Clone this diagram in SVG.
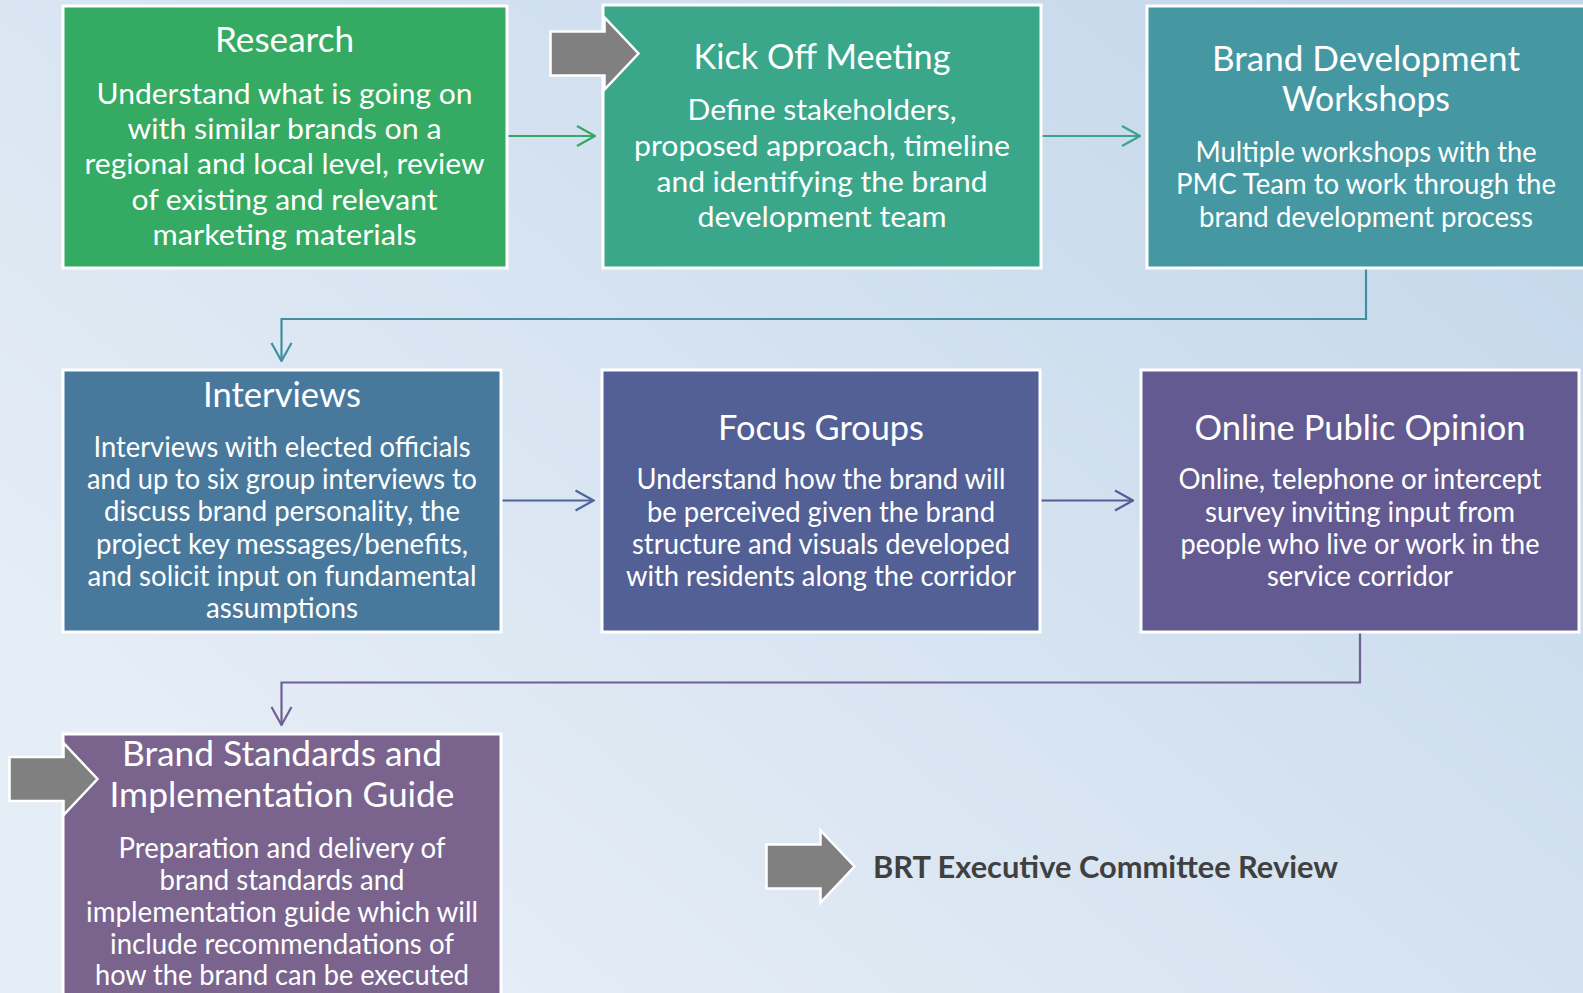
<svg xmlns="http://www.w3.org/2000/svg" width="1583" height="993" viewBox="0 0 1583 993">
  <defs>
    <linearGradient id="bg" gradientUnits="userSpaceOnUse" x1="1400" y1="-100" x2="500" y2="1000">
      <stop offset="0" stop-color="#c2d6ea"/>
      <stop offset="1" stop-color="#e5edf6"/>
    </linearGradient>
    <!-- block arrow, tip at origin -->
    <path id="block-arrow" d="M-88,-22 H-34 V-36 L0,0 L-34,36 V22 H-88 Z"/>
    <marker id="head-green" viewBox="0 0 20 24" refX="19" refY="12" markerWidth="20" markerHeight="24" markerUnits="userSpaceOnUse" orient="auto">
      <path d="M1,2 L19,12 L1,22" fill="none" stroke="#35a865" stroke-width="2.2"/>
    </marker>
    <marker id="head-teal" viewBox="0 0 20 24" refX="19" refY="12" markerWidth="20" markerHeight="24" markerUnits="userSpaceOnUse" orient="auto">
      <path d="M1,2 L19,12 L1,22" fill="none" stroke="#3aa38e" stroke-width="2.2"/>
    </marker>
    <marker id="head-cyan" viewBox="0 0 20 24" refX="19" refY="12" markerWidth="20" markerHeight="24" markerUnits="userSpaceOnUse" orient="auto">
      <path d="M1,2 L19,12 L1,22" fill="none" stroke="#418fa0" stroke-width="2.2"/>
    </marker>
    <marker id="head-blue" viewBox="0 0 20 24" refX="19" refY="12" markerWidth="20" markerHeight="24" markerUnits="userSpaceOnUse" orient="auto">
      <path d="M1,2 L19,12 L1,22" fill="none" stroke="#4d659a" stroke-width="2.2"/>
    </marker>
    <marker id="head-indigo" viewBox="0 0 20 24" refX="19" refY="12" markerWidth="20" markerHeight="24" markerUnits="userSpaceOnUse" orient="auto">
      <path d="M1,2 L19,12 L1,22" fill="none" stroke="#5a5b95" stroke-width="2.2"/>
    </marker>
    <marker id="head-violet" viewBox="0 0 20 24" refX="19" refY="12" markerWidth="20" markerHeight="24" markerUnits="userSpaceOnUse" orient="auto">
      <path d="M1,2 L19,12 L1,22" fill="none" stroke="#6f5f92" stroke-width="2.2"/>
    </marker>
  </defs>
  <style>
    .box { stroke: #ffffff; stroke-width: 3; }
    text { font-family: Lato, "Open Sans", sans-serif; }
    .title { font-size: 34px; fill: #ffffff; text-anchor: middle; }
    .body { font-size: 28px; fill: #ffffff; text-anchor: middle; }
    .body.lg { font-size: 29px; }
    .conn { fill: none; stroke-width: 2.2; }
    .block { fill: #808080; stroke: #ffffff; stroke-width: 2.5; stroke-linejoin: miter; }
    .note { font-weight: bold; font-size: 31px; fill: #404040; }
  </style>

  <rect x="0" y="0" width="1583" height="993" fill="url(#bg)"/>

  <g id="connectors">
    <line class="conn" x1="508" y1="136" x2="595" y2="136" stroke="#35a865" marker-end="url(#head-green)"/>
    <line class="conn" x1="1042" y1="136" x2="1140" y2="136" stroke="#3aa38e" marker-end="url(#head-teal)"/>
    <polyline class="conn" points="1366,268 1366,319 281.5,319 281.5,361" stroke="#418fa0" marker-end="url(#head-cyan)"/>
    <line class="conn" x1="502" y1="500.5" x2="593.5" y2="500.5" stroke="#4d659a" marker-end="url(#head-blue)"/>
    <line class="conn" x1="1041" y1="500.5" x2="1133" y2="500.5" stroke="#5a5b95" marker-end="url(#head-indigo)"/>
    <polyline class="conn" points="1360,633 1360,682.5 281.5,682.5 281.5,725" stroke="#6f5f92" marker-end="url(#head-violet)"/>
  </g>

  <g id="research">
    <rect class="box" x="63" y="6" width="444" height="262" fill="#34aa62"/>
    <text class="title" x="284.5" y="52" textLength="139" lengthAdjust="spacingAndGlyphs">Research</text>
    <text class="body lg" x="284.5" y="103.5" textLength="376" lengthAdjust="spacingAndGlyphs">Understand what is going on</text>
    <text class="body lg" x="284.5" y="138.5" textLength="314" lengthAdjust="spacingAndGlyphs">with similar brands on a</text>
    <text class="body lg" x="284.5" y="174" textLength="400" lengthAdjust="spacingAndGlyphs">regional and local level, review</text>
    <text class="body lg" x="284.5" y="209.5" textLength="306" lengthAdjust="spacingAndGlyphs">of existing and relevant</text>
    <text class="body lg" x="284.5" y="245" textLength="264" lengthAdjust="spacingAndGlyphs">marketing materials</text>
  </g>

  <g id="kick-off-meeting">
    <rect class="box" x="603" y="5" width="438" height="263" fill="#3aa78a"/>
    <text class="title" x="822" y="68.5" textLength="257" lengthAdjust="spacingAndGlyphs">Kick Off Meeting</text>
    <text class="body lg" x="822" y="120" textLength="269" lengthAdjust="spacingAndGlyphs">Define stakeholders,</text>
    <text class="body lg" x="822" y="156" textLength="376" lengthAdjust="spacingAndGlyphs">proposed approach, timeline</text>
    <text class="body lg" x="822" y="191.5" textLength="331" lengthAdjust="spacingAndGlyphs">and identifying the brand</text>
    <text class="body lg" x="822" y="227" textLength="249" lengthAdjust="spacingAndGlyphs">development team</text>
  </g>

  <g id="brand-development-workshops">
    <rect class="box" x="1147" y="6" width="440" height="262" fill="#4598a2"/>
    <text class="title" x="1366" y="71" textLength="308" lengthAdjust="spacingAndGlyphs">Brand Development</text>
    <text class="title" x="1366" y="111" textLength="168" lengthAdjust="spacingAndGlyphs">Workshops</text>
    <text class="body" x="1366" y="162" textLength="341" lengthAdjust="spacingAndGlyphs">Multiple workshops with the</text>
    <text class="body" x="1366" y="193.5" textLength="380" lengthAdjust="spacingAndGlyphs">PMC Team to work through the</text>
    <text class="body" x="1366" y="226.5" textLength="334" lengthAdjust="spacingAndGlyphs">brand development process</text>
  </g>

  <g id="interviews">
    <rect class="box" x="63" y="370" width="438" height="262" fill="#48799d"/>
    <text class="title" x="282" y="406.5" textLength="158" lengthAdjust="spacingAndGlyphs">Interviews</text>
    <text class="body" x="282" y="456.5" textLength="377" lengthAdjust="spacingAndGlyphs">Interviews with elected officials</text>
    <text class="body" x="282" y="489" textLength="390" lengthAdjust="spacingAndGlyphs">and up to six group interviews to</text>
    <text class="body" x="282" y="521" textLength="356" lengthAdjust="spacingAndGlyphs">discuss brand personality, the</text>
    <text class="body" x="282" y="553.5" textLength="372" lengthAdjust="spacingAndGlyphs">project key messages/benefits,</text>
    <text class="body" x="282" y="585.5" textLength="389" lengthAdjust="spacingAndGlyphs">and solicit input on fundamental</text>
    <text class="body" x="282" y="617.5" textLength="152" lengthAdjust="spacingAndGlyphs">assumptions</text>
  </g>

  <g id="focus-groups">
    <rect class="box" x="602" y="370" width="438" height="262" fill="#526096"/>
    <text class="title" x="821" y="439.5" textLength="206" lengthAdjust="spacingAndGlyphs">Focus Groups</text>
    <text class="body" x="821" y="488.5" textLength="369" lengthAdjust="spacingAndGlyphs">Understand how the brand will</text>
    <text class="body" x="821" y="521.5" textLength="348" lengthAdjust="spacingAndGlyphs">be perceived given the brand</text>
    <text class="body" x="821" y="553.5" textLength="378" lengthAdjust="spacingAndGlyphs">structure and visuals developed</text>
    <text class="body" x="821" y="585.5" textLength="390" lengthAdjust="spacingAndGlyphs">with residents along the corridor</text>
  </g>

  <g id="online-public-opinion">
    <rect class="box" x="1141" y="370" width="438" height="262" fill="#635a91"/>
    <text class="title" x="1360" y="439.5" textLength="331" lengthAdjust="spacingAndGlyphs">Online Public Opinion</text>
    <text class="body" x="1360" y="488.5" textLength="363" lengthAdjust="spacingAndGlyphs">Online, telephone or intercept</text>
    <text class="body" x="1360" y="521.5" textLength="310" lengthAdjust="spacingAndGlyphs">survey inviting input from</text>
    <text class="body" x="1360" y="553.5" textLength="359" lengthAdjust="spacingAndGlyphs">people who live or work in the</text>
    <text class="body" x="1360" y="585.5" textLength="186" lengthAdjust="spacingAndGlyphs">service corridor</text>
  </g>

  <g id="brand-standards">
    <rect class="box" x="63" y="734" width="438" height="275" fill="#7a648e"/>
    <text class="title" x="282" y="766" textLength="320" lengthAdjust="spacingAndGlyphs">Brand Standards and</text>
    <text class="title" x="282" y="806.5" textLength="345" lengthAdjust="spacingAndGlyphs">Implementation Guide</text>
    <text class="body" x="282" y="858" textLength="327" lengthAdjust="spacingAndGlyphs">Preparation and delivery of</text>
    <text class="body" x="282" y="890" textLength="245" lengthAdjust="spacingAndGlyphs">brand standards and</text>
    <text class="body" x="282" y="921.5" textLength="392" lengthAdjust="spacingAndGlyphs">implementation guide which will</text>
    <text class="body" x="282" y="953.5" textLength="344" lengthAdjust="spacingAndGlyphs">include recommendations of</text>
    <text class="body" x="282" y="985" textLength="374" lengthAdjust="spacingAndGlyphs">how the brand can be executed</text>
  </g>

  <!-- review markers -->
  <use class="block" href="#block-arrow" transform="translate(638.5,53.5)"/>
  <use class="block" href="#block-arrow" transform="translate(97.5,779)"/>

  <g id="brt-review">
    <use class="block" href="#block-arrow" transform="translate(854.5,866.5)"/>
    <text class="note" x="873" y="877.5" textLength="465" lengthAdjust="spacingAndGlyphs">BRT Executive Committee Review</text>
  </g>
</svg>
